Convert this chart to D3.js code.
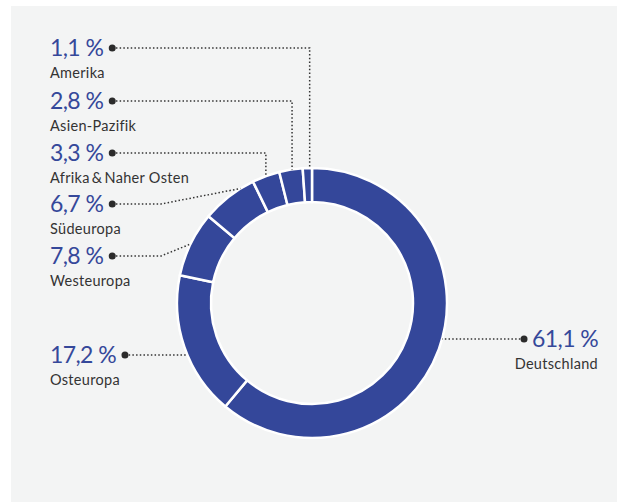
<!DOCTYPE html>
<meta charset="utf-8">
<title>Umsatz nach Regionen</title>
<style>
body { margin: 0; background: #fff; }
svg { display: block; font-family: Lato, "Noto Sans", sans-serif; }
.pct { fill: #35489a; font-size: 23px; letter-spacing: -0.6px; }
.name { fill: #333; font-size: 14.5px; letter-spacing: 0.3px; }
.leader { fill: none; stroke: #333; stroke-width: 1.5; stroke-dasharray: 1.5 2.2; }
</style>

<script src="https://cdn.jsdelivr.net/npm/d3@7"></script>

<div id="chart"></div>

<script>

// data, in the order the ring is drawn (clockwise from 12 o'clock)
var regions = ["Deutschland", "Osteuropa", "Westeuropa", "Südeuropa",
               "Afrika\u2009&\u2009Naher Osten", "Asien-Pazifik", "Amerika"];
var shares = [61.1, 17.2, 7.8, 6.7, 3.3, 2.8, 1.1];

// label placement: baseline of the percentage, side and kind of leader line
var labelY    = [347, 363, 264, 212, 161, 109, 56];
var labelSide = ["right", "left", "left", "left", "left", "left", "left"];
var leaderKind = ["straight", "straight", "diagonal", "diagonal", "elbow", "elbow", "elbow"];
var leaderAt   = [0.5, 0.5, 0.5, 0.75, 0.5, 0.55, 0.75];  // where in the slice the line lands

var width = 617, height = 502;
var cx = 312, cy = 303, outerR = 135, innerR = 101;

var fmt = function(v) { return d3.format(".1f")(v).replace(".", ",") + "\u00a0%"; };

var svg = d3.select("#chart")
  .append("svg")
  .attr("width", width)
  .attr("height", height);

// grey panel
svg.append("rect")
  .attr("x", 11).attr("y", 6)
  .attr("width", width - 11).attr("height", height - 6)
  .attr("fill", "#f3f4f4");

var pie = d3.pie().sort(null).value(function(d) { return d; });
var arcs = pie(shares);

var arc = d3.arc().innerRadius(innerR).outerRadius(outerR);

var g = svg.append("g").attr("transform", "translate(" + cx + "," + cy + ")");

g.selectAll("path")
  .data(arcs)
  .enter()
  .append("path")
    .attr("d", arc)
    .attr("fill", "#34479a")
    .attr("stroke", "#fff")
    .attr("stroke-width", 2.5);

// point on the outer edge of the ring at angle a (radians, clockwise from top)
function onRing(a) {
  return [cx + outerR * Math.sin(a), cy - outerR * Math.cos(a)];
}

var labels = svg.append("g");

arcs.forEach(function(d, i) {
  var y = labelY[i];
  var pct = labels.append("text").attr("class", "pct").attr("y", y).text(fmt(shares[i]));
  var name = labels.append("text").attr("class", "name").attr("y", y + 22).text(regions[i]);
  var dotX, dotY = y - 8;

  if (labelSide[i] == "left") {
    pct.attr("x", 50);
    name.attr("x", 50);
    dotX = 50 + pct.node().getComputedTextLength() + 9;
  } else {
    pct.attr("x", 598).attr("text-anchor", "end");
    name.attr("x", 598).attr("text-anchor", "end");
    dotX = 598 - pct.node().getComputedTextLength() - 8;
  }

  var a = d.startAngle + (d.endAngle - d.startAngle) * leaderAt[i];
  var pts;
  if (leaderKind[i] == "straight") {
    var dx = Math.sqrt(outerR * outerR - (dotY - cy) * (dotY - cy));
    var ex = labelSide[i] == "left" ? cx - dx : cx + dx;
    pts = [[dotX, dotY], [ex, dotY]];
  } else if (leaderKind[i] == "diagonal") {
    pts = [[dotX, dotY], [161, dotY], onRing(a)];
  } else {
    var e = onRing(a);
    pts = [[dotX, dotY], [e[0], dotY], e];
  }

  labels.append("path")
    .attr("class", "leader")
    .attr("d", d3.line()(pts));

  labels.append("circle")
    .attr("cx", dotX).attr("cy", dotY)
    .attr("r", 3.5)
    .attr("fill", "#2b2b2b");
});

</script>
